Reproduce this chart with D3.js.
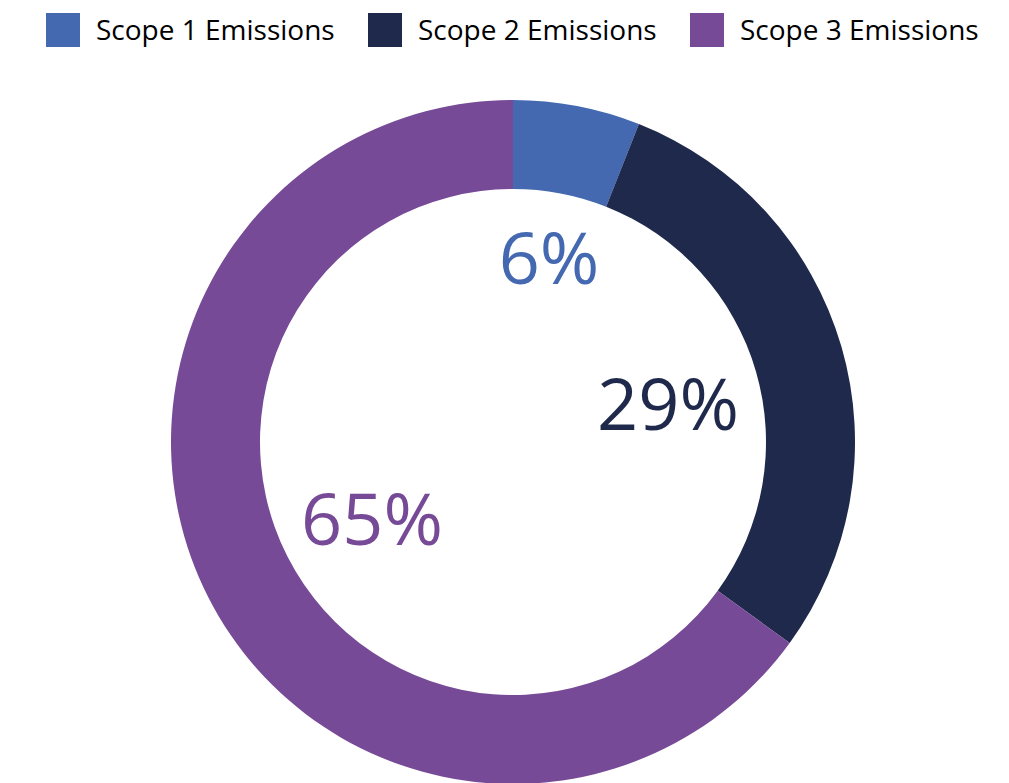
<!DOCTYPE html>
<html>
<head>
<meta charset="utf-8">
<script src="https://cdn.jsdelivr.net/npm/d3@7"></script>
<style>
  html, body { margin: 0; padding: 0; background: #fff; }
  svg { display: block; font-family: "Open Sans", "Noto Sans", sans-serif; }
</style>
</head>
<body>
<svg id="chart" width="1009" height="783"></svg>
<script>
// Share of total emissions by scope (percent)
const categories = ["Scope 1 Emissions", "Scope 2 Emissions", "Scope 3 Emissions"];
const values = [6, 29, 65];
const colors = ["#4469B0", "#1F294B", "#774A97"];

const svg = d3.select("#chart");
const cx = 513, cy = 442;
const outerR = 342, innerR = 253;

const color = d3.scaleOrdinal().domain(categories).range(colors);

const pie = d3.pie().sort(null).value(d => d.value);
const arc = d3.arc().innerRadius(innerR).outerRadius(outerR);

const data = categories.map((c, i) => ({ name: c, value: values[i] }));
const arcs = pie(data);

const g = svg.append("g").attr("transform", `translate(${cx},${cy})`);

g.selectAll("path")
  .data(arcs)
  .join("path")
  .attr("d", arc)
  .attr("fill", d => color(d.data.name));

// Percentage labels inside the ring
const labelOffsets = [[36, -158], [155, -12], [-141, 103]];
g.selectAll("text.pct")
  .data(arcs)
  .join("text")
  .attr("class", "pct")
  .attr("x", (d, i) => labelOffsets[i][0])
  .attr("y", (d, i) => labelOffsets[i][1])
  .attr("text-anchor", "middle")
  .attr("font-size", 72)
  .attr("fill", d => color(d.data.name))
  .text(d => d3.format("d")(d.data.value) + "%");

// Legend across the top
const legend = svg.append("g");
const item = legend.selectAll("g")
  .data(categories)
  .join("g")
  .attr("transform", (d, i) => `translate(${46 + i * 322},13)`);

item.append("rect")
  .attr("width", 34)
  .attr("height", 34)
  .attr("fill", d => color(d));

item.append("text")
  .attr("x", 50)
  .attr("y", 27)
  .attr("font-size", 28)
  .attr("fill", "#000")
  .text(d => d);
</script>
</body>
</html>
